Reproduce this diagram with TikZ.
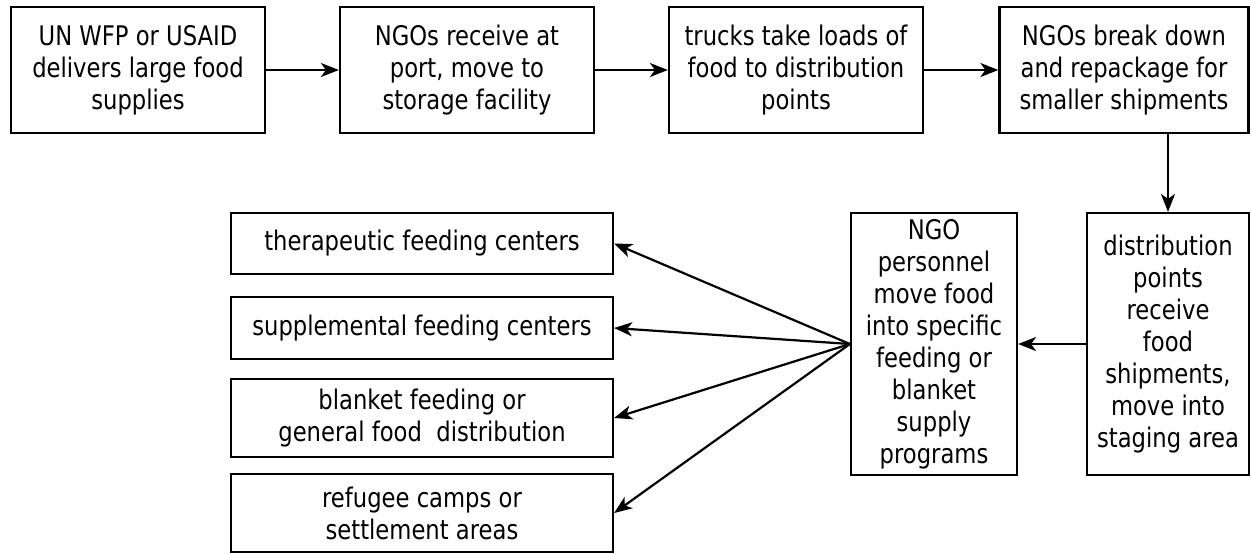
\documentclass[tikz,border=0pt]{standalone}
\usepackage{fontspec}
\setmainfont{DejaVu Sans}[FakeStretch=0.84]
\usetikzlibrary{arrows.meta}
\begin{document}
\begin{tikzpicture}[x=1pt,y=-1pt,
  box/.style={draw,line width=2.2pt,rectangle,inner sep=0pt,align=center,
    font=\fontsize{27}{32}\selectfont},
  arr/.style={line width=2.2pt,-{Stealth[length=18pt,width=14pt,inset=5pt]}}]
\useasboundingbox (0,0) rectangle (1251,554);
\node[box,minimum width=254pt,minimum height=126pt] (b1) at (138,70) {UN WFP or USAID\\delivers large food\\supplies};
\node[box,minimum width=254pt,minimum height=126pt] (b2) at (467,70) {NGOs receive at\\port, move to\\storage facility};
\node[box,minimum width=254pt,minimum height=126pt] (b3) at (796,70) {trucks take loads of\\food to distribution\\points};
\node[box,minimum width=249pt,minimum height=126pt] (b4) at (1124,70) {NGOs break down\\and repackage for\\smaller shipments};
\node[box,minimum width=162pt,minimum height=262pt] (b5) at (1168,344) {distribution\\points\\receive\\food\\shipments,\\move into\\staging area};
\node[box,minimum width=166pt,minimum height=262pt] (b6) at (934,344) {NGO\\personnel\\move food\\into specific\\feeding or\\blanket\\supply\\programs};
\node[box,minimum width=382pt,minimum height=61pt] (la) at (422,243.5) {therapeutic feeding centers};
\node[box,minimum width=382pt,minimum height=62pt] (lb) at (422,328) {supplemental feeding centers};
\node[box,minimum width=382pt,minimum height=78pt] (lc) at (422,418) {blanket feeding or\\general food\ \ distribution};
\node[box,minimum width=382pt,minimum height=78pt] (ld) at (422,513) {refugee camps or\\settlement areas};
\draw[arr] (b1) -- (b2);
\draw[arr] (b2) -- (b3);
\draw[arr] (b3) -- (b4);
\draw[arr] (b5.north |- b4.south) -- (b5.north);
\draw[arr] (b5) -- (b6);
\coordinate (o) at (b6.west);
\draw[arr] (o) -- (la.east);
\draw[arr] (o) -- (lb.east);
\draw[arr] (o) -- (lc.east);
\draw[arr] (o) -- (ld.east);
\end{tikzpicture}
\end{document}
